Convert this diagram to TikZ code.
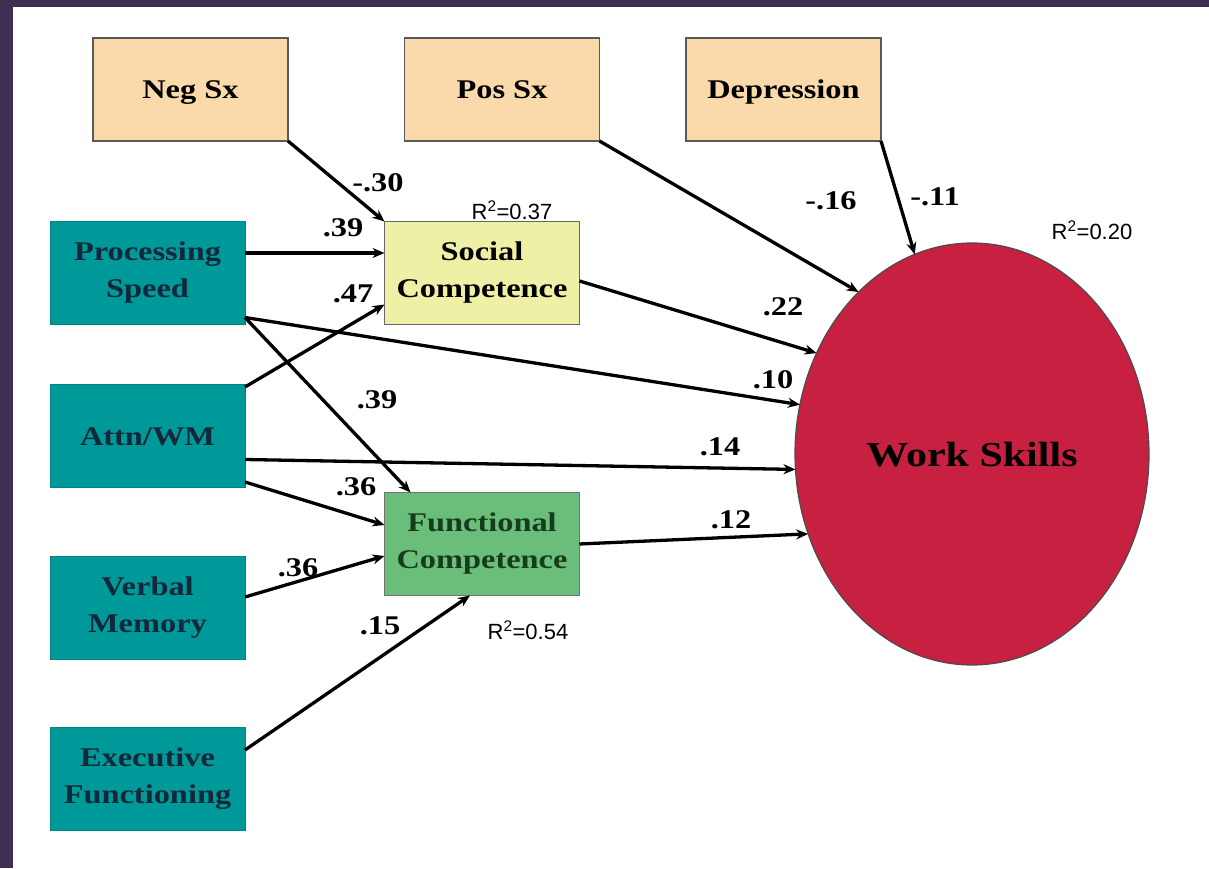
\documentclass[tikz,border=0pt]{standalone}
\usepackage{fontspec}
\setmainfont{Liberation Serif}
\newfontfamily\boxfont[FakeStretch=1.2]{Liberation Serif}
\newfontfamily\rsans{Liberation Sans}
\usetikzlibrary{arrows.meta,calc,shapes.geometric}
\definecolor{framec}{RGB}{62,46,82}
\definecolor{peach}{RGB}{250,217,170}
\definecolor{tealbox}{RGB}{0,153,153}
\definecolor{tealtext}{RGB}{18,40,58}
\definecolor{socialc}{RGB}{238,240,165}
\definecolor{funcc}{RGB}{106,190,122}
\definecolor{functext}{RGB}{22,60,30}
\definecolor{wsred}{RGB}{200,32,64}
\tikzset{
  box/.style={rectangle, minimum width=195pt, minimum height=103pt, inner sep=0pt, outer sep=0pt, align=center, font=\boxfont\fontsize{27}{37}\selectfont\bfseries, line width=1.5pt},
  oneline/.style={text depth=0pt},
  sym/.style={box, fill=peach, draw=black!65},
  pred/.style={box, fill=tealbox, draw=tealbox!85!black, line width=1pt, text=tealtext},
  socbox/.style={box, fill=socialc, draw=black!60},
  funbox/.style={box, fill=funcc, draw=black!55, text=functext},
  outc/.style={ellipse, minimum width=354pt, minimum height=422pt, inner sep=0pt, outer sep=0pt, fill=wsred, draw=black!70, line width=1.2pt, font=\boxfont\fontsize{35}{35}\selectfont\bfseries},
  conn/.style={line width=3.3pt, -{Stealth[length=12pt,width=10pt]}},
  coef/.style={font=\boxfont\fontsize{27}{27}\selectfont\bfseries, inner sep=0pt},
  rsq/.style={font=\rsans\fontsize{22}{22}\selectfont, inner sep=0pt}
}
\begin{document}
\begin{tikzpicture}[x=1pt,y=1pt]
\fill[framec] (0,0) rectangle (1209,868);
\fill[white] (13,0) rectangle (1209,861);
\useasboundingbox (0,0) rectangle (1209,868);

\node[sym,oneline] (neg) at (190.5,778.5) {Neg Sx};
\node[sym,oneline] (pos) at (502,778.5) {Pos Sx};
\node[sym,oneline] (dep) at (783.5,778.5) {Depression};

\node[pred] (ps) at (147.5,595) {Processing\\Speed};
\node[pred,oneline] (attn) at (147.5,431.5) {Attn/WM};
\node[pred] (vm) at (147.5,260) {Verbal\\Memory};
\node[pred] (ef) at (147.5,89) {Executive\\Functioning};

\node[socbox] (sc) at (482,595) {Social\\Competence};
\node[funbox] (fc) at (482,324) {Functional\\Competence};

\node[outc,oneline] (ws) at (972,414) {Work Skills};

\draw[conn] (neg.south east) -- (sc.north west);
\draw[conn] ($(ps.east)+(0,20)$) -- ($(sc.west)+(0,20)$);
\draw[conn] ($(attn.north east)+(0,-2)$) -- ($(sc.south west)+(0,20)$);
\draw[conn] ($(ps.south east)+(0,7)$) -- ($(fc.north west)+(26,0)$);
\draw[conn] ($(ps.south east)+(0,7)$) -- (ws.164);
\draw[conn] ($(attn.east)+(0,-23)$) -- (ws.185);
\draw[conn] ($(attn.south east)+(0,6)$) -- ($(fc.west)+(0,19)$);
\draw[conn] ($(vm.east)+(0,11)$) -- ($(fc.west)+(0,-12)$);
\draw[conn] ($(ef.east)+(0,29)$) -- ($(fc.south)+(-12,0)$);
\draw[conn] ($(sc.east)+(0,-8)$) -- (ws.147);
\draw[conn] (fc.east) -- (ws.206);
\draw[conn] (pos.south east) -- (ws.125);
\draw[conn] (dep.south east) -- (ws.106);

\node[coef] (c1) at (378,685) {-.30};
\node[coef] (c2) at (343,640) {.39};
\node[coef] (c3) at (353,574) {.47};
\node[coef] (c4) at (377,468) {.39};
\node[coef] (c5) at (773,488) {.10};
\node[coef] (c6) at (720,421) {.14};
\node[coef] (c7) at (356,381) {.36};
\node[coef] (c8) at (298,300) {.36};
\node[coef] (c9) at (380,242) {.15};
\node[coef] (c10) at (783,561) {.22};
\node[coef] (c11) at (731,348) {.12};
\node[coef] (c12) at (831,667) {-.16};
\node[coef] (c13) at (935,671) {-.11};

\node[rsq] (r1) at (512,658) {R\textsuperscript{2}=0.37};
\node[rsq] (r2) at (528,238) {R\textsuperscript{2}=0.54};
\node[rsq] (r3) at (1092,638) {R\textsuperscript{2}=0.20};
\end{tikzpicture}
\end{document}
